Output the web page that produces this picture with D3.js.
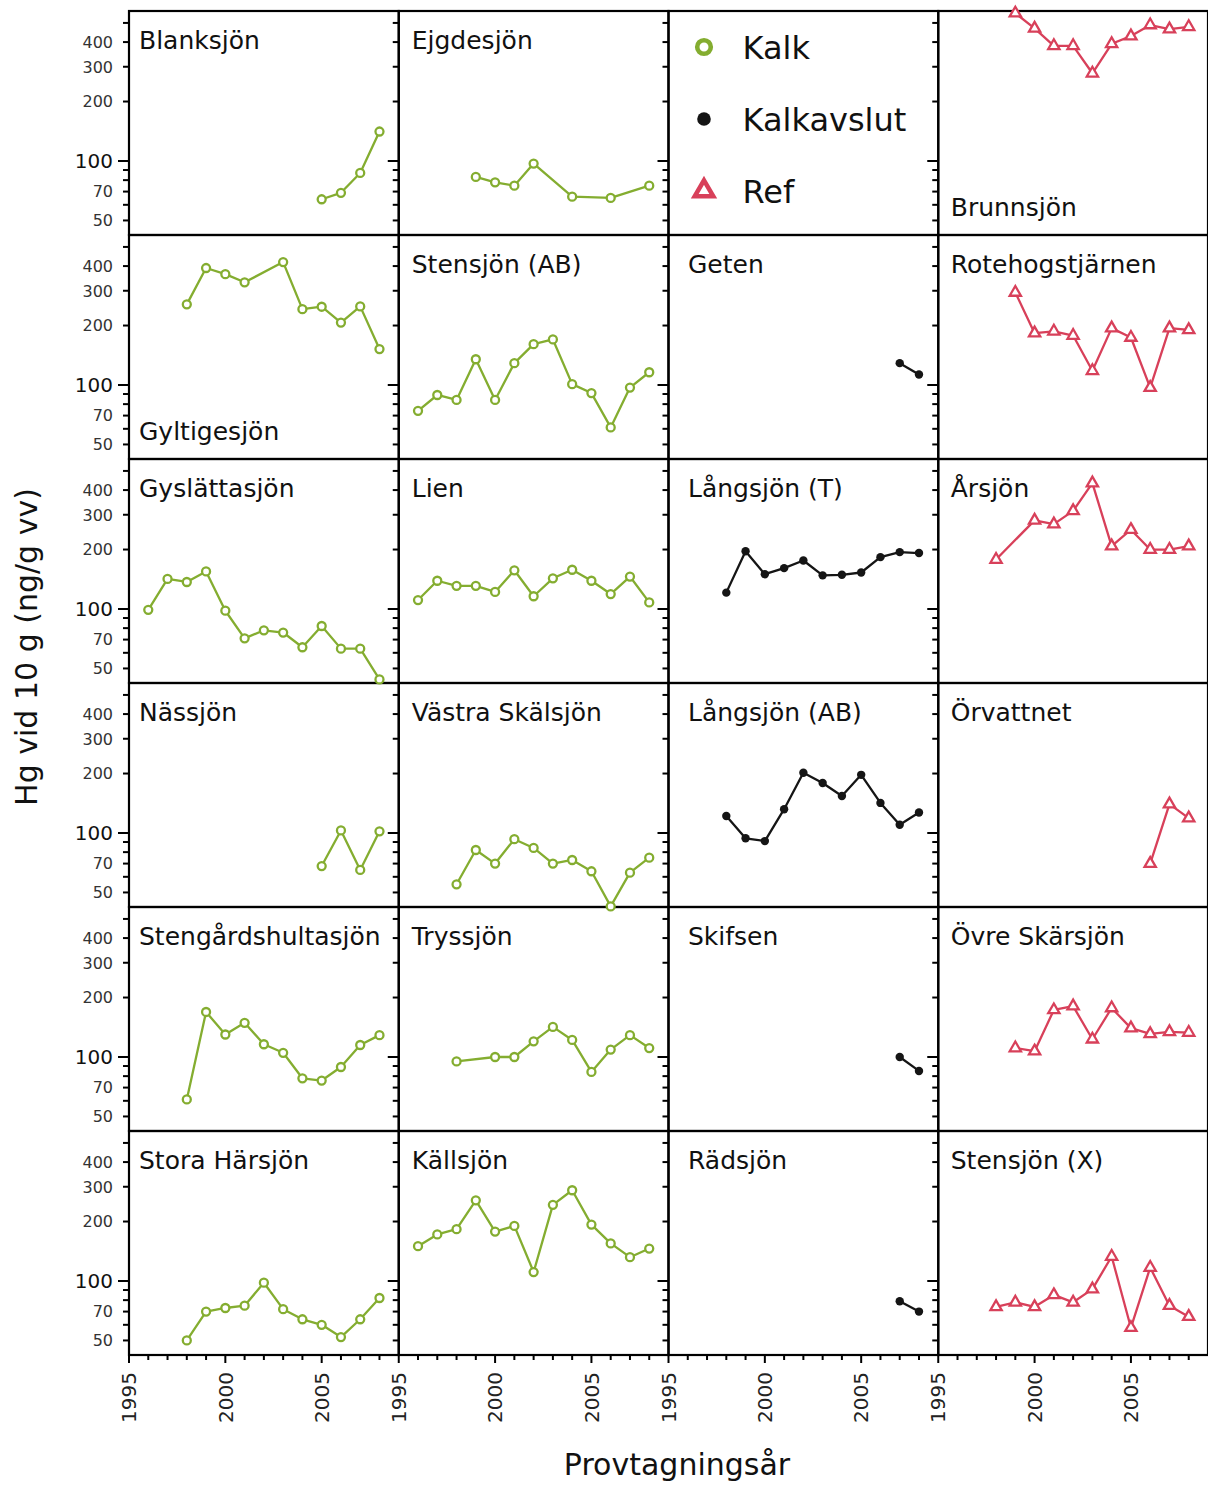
<!DOCTYPE html>
<html><head><meta charset="utf-8">
<script src="https://cdn.jsdelivr.net/npm/d3@7"></script>
<style>body{margin:0;background:#fff}svg{display:block}</style>
</head><body><svg id="chart" width="1208" height="1485"></svg>
<script>
// ---------- data ----------
const groups = ["Kalk", "Kalkavslut", "Ref"];
const lakeNames = ["Blanksjön","Ejgdesjön","Brunnsjön",
  "Gyltigesjön","Stensjön (AB)","Geten","Rotehogstjärnen",
  "Gyslättasjön","Lien","Långsjön (T)","Årsjön",
  "Nässjön","Västra Skälsjön","Långsjön (AB)","Örvattnet",
  "Stengårdshultasjön","Tryssjön","Skifsen","Övre Skärsjön",
  "Stora Härsjön","Källsjön","Rädsjön","Stensjön (X)"];
const lakeGroup = ["Kalk","Kalk","Ref",
  "Kalk","Kalk","Kalkavslut","Ref",
  "Kalk","Kalk","Kalkavslut","Ref",
  "Kalk","Kalk","Kalkavslut","Ref",
  "Kalk","Kalk","Kalkavslut","Ref",
  "Kalk","Kalk","Kalkavslut","Ref"];
const lakeYears = [
  [2005,2006,2007,2008],
  [1999,2000,2001,2002,2004,2006,2008],
  [1999,2000,2001,2002,2003,2004,2005,2006,2007,2008],
  [1998,1999,2000,2001,2003,2004,2005,2006,2007,2008],
  [1996,1997,1998,1999,2000,2001,2002,2003,2004,2005,2006,2007,2008],
  [2007,2008],
  [1999,2000,2001,2002,2003,2004,2005,2006,2007,2008],
  [1996,1997,1998,1999,2000,2001,2002,2003,2004,2005,2006,2007,2008],
  [1996,1997,1998,1999,2000,2001,2002,2003,2004,2005,2006,2007,2008],
  [1998,1999,2000,2001,2002,2003,2004,2005,2006,2007,2008],
  [1998,2000,2001,2002,2003,2004,2005,2006,2007,2008],
  [2005,2006,2007,2008],
  [1998,1999,2000,2001,2002,2003,2004,2005,2006,2007,2008],
  [1998,1999,2000,2001,2002,2003,2004,2005,2006,2007,2008],
  [2006,2007,2008],
  [1998,1999,2000,2001,2002,2003,2004,2005,2006,2007,2008],
  [1998,2000,2001,2002,2003,2004,2005,2006,2007,2008],
  [2007,2008],
  [1999,2000,2001,2002,2003,2004,2005,2006,2007,2008],
  [1998,1999,2000,2001,2002,2003,2004,2005,2006,2007,2008],
  [1996,1997,1998,1999,2000,2001,2002,2003,2004,2005,2006,2007,2008],
  [2007,2008],
  [1998,1999,2000,2001,2002,2003,2004,2005,2006,2007,2008]
];
const lakeValues = [
  [64,69,87,141],
  [83,78,75,97,66,65,75],
  [560,469,383,383,278,392,429,488,465,478],
  [256,391,364,331,419,242,249,207,250,152],
  [74,89,84,135,84,129,161,170,101,91,61,97,116],
  [129,113],
  [294,183,187,178,118,194,174,97,194,190],
  [99,142,137,155,98,71,78,76,64,82,63,63,44],
  [111,139,131,131,122,157,116,143,158,139,119,146,108],
  [121,196,150,161,176,148,149,153,183,194,192],
  [178,281,269,314,434,208,252,200,200,208],
  [68,103,65,102],
  [55,82,70,93,84,70,73,64,42.5,63,75],
  [122,94,91,132,202,179,154,197,142,110,127],
  [70,140,119],
  [61,169,130,149,116,105,78,76,89,115,129],
  [95,100,100,120,142,122,84,109,129,111],
  [100,85],
  [111,107,173,181,123,177,140,131,134,133],
  [50,70,73,75,98,72,64,60,52,64,82],
  [150,172,183,256,178,190,111,243,288,193,155,132,146],
  [79,70],
  [74,78,74,85,78,91,133,58,117,75,66]
];
const titleAtBottom = ["Brunnsjön","Gyltigesjön"];
const yTickValues = [50,60,70,80,90,100,200,300,400,500];
const yTickLabels = [50,70,100,200,300,400];
const xTickYears = [1995,1996,1997,1998,1999,2000,2001,2002,2003,2004,2005,2006,2007,2008];
const xTickLabels = [1995,2000,2005];
const yTitle = "Hg vid 10 g (ng/g vv)";
const xTitle = "Provtagningsår";

// ---------- layout ----------
const FONT = "DejaVu Sans, sans-serif";
const gridLeft = 129, gridTop = 11, cellW = 269.75, cellH = 224, nCols = 4, nRows = 6;
const legendCell = 2;
const titleDx = [10, 13, 19.5, 12.5];
const color = d3.scaleOrdinal().domain(groups).range(["#84ad30", "#151515", "#d8405a"]);

const x = d3.scaleLinear().domain([1995, 2009]).range([0, cellW]);
const y = d3.scaleLog().domain([42.2, 574.6]).range([cellH, 0]);

const svg = d3.select("#chart");
svg.append("rect").attr("width", 1208).attr("height", 1485).attr("fill", "#fff");

function cellPos(idx) {
  return { c: idx % nCols, r: Math.floor(idx / nCols) };
}

function marker(sel, group, big) {
  if (group === "Kalk") {
    sel.append("circle").attr("r", big ? 6.8 : 4)
      .attr("fill", "#fff").attr("stroke", color(group)).attr("stroke-width", big ? 4.6 : 2.3);
  } else if (group === "Kalkavslut") {
    sel.append("circle").attr("r", big ? 6.8 : 4.2).attr("fill", color(group));
  } else {
    sel.append("path").attr("d", d3.symbol(d3.symbolTriangle, big ? 150 : 55)())
      .attr("fill", "#fff").attr("stroke", color(group)).attr("stroke-width", big ? 4.5 : 2.3)
      .attr("stroke-linejoin", "miter");
  }
}

// frames + axes for each cell
for (let idx = 0; idx < nCols * nRows; idx++) {
  const { c, r } = cellPos(idx);
  const g = svg.append("g").attr("transform", `translate(${gridLeft + c * cellW},${gridTop + r * cellH})`);
  g.append("rect").attr("width", cellW).attr("height", cellH)
    .attr("fill", "none").attr("stroke", "#000").attr("stroke-width", 2.2);
  g.selectAll(".yt").data(yTickValues).join("line")
    .attr("x1", 0).attr("x2", d => d === 100 ? -11 : -6)
    .attr("y1", d => y(d)).attr("y2", d => y(d))
    .attr("stroke", "#000").attr("stroke-width", 2);
  if (c === 0) {
    g.selectAll(".yl").data(yTickLabels).join("text")
      .attr("x", -16).attr("y", d => y(d)).attr("dy", "0.36em")
      .attr("text-anchor", "end").attr("font-family", FONT)
      .attr("font-size", d => d === 100 ? 20 : 16)
      .attr("fill", d => d === 100 ? "#111" : "#333")
      .text(d => d);
  }
  if (r === nRows - 1) {
    g.selectAll(".xt").data(xTickYears).join("line")
      .attr("x1", d => x(d)).attr("x2", d => x(d))
      .attr("y1", cellH).attr("y2", d => d % 5 === 0 ? cellH + 8 : cellH + 5)
      .attr("stroke", "#000").attr("stroke-width", 2);
    g.selectAll(".xl").data(xTickLabels).join("text")
      .attr("transform", d => `translate(${x(d)},${cellH + 17}) rotate(-90)`)
      .attr("dy", "0.36em").attr("text-anchor", "end")
      .attr("font-family", FONT).attr("font-size", 20).attr("fill", "#222")
      .text(d => d);
  }
}

// data panels
lakeNames.forEach((name, i) => {
  const idx = i >= legendCell ? i + 1 : i;
  const { c, r } = cellPos(idx);
  const group = lakeGroup[i];
  const pts = lakeYears[i].map((yr, k) => ({ yr, v: lakeValues[i][k] }));
  const g = svg.append("g").attr("transform", `translate(${gridLeft + c * cellW},${gridTop + r * cellH})`);
  const bottom = titleAtBottom.includes(name);
  g.append("text").attr("x", titleDx[c]).attr("y", bottom ? 205 : 38)
    .attr("font-family", FONT).attr("font-size", 25).attr("fill", "#111").text(name);
  g.append("path").datum(pts)
    .attr("d", d3.line().x(d => x(d.yr)).y(d => y(d.v)))
    .attr("fill", "none").attr("stroke", color(group)).attr("stroke-width", 2.3)
    .attr("stroke-linejoin", "round");
  pts.forEach(p => {
    const m = g.append("g").attr("transform", `translate(${x(p.yr)},${y(p.v)})`);
    marker(m, group, false);
  });
});

// legend
{
  const { c, r } = cellPos(legendCell);
  const g = svg.append("g").attr("transform", `translate(${gridLeft + c * cellW},${gridTop + r * cellH})`);
  groups.forEach((grp, k) => {
    const cy = 36 + k * 72;
    const m = g.append("g").attr("transform", `translate(35.5,${cy})`);
    marker(m, grp, true);
    g.append("text").attr("x", 74).attr("y", cy + 12)
      .attr("font-family", FONT).attr("font-size", 32).attr("fill", "#111").text(grp);
  });
}

// axis titles
svg.append("text").attr("transform", "translate(37,647) rotate(-90)")
  .attr("text-anchor", "middle").attr("font-family", FONT).attr("font-size", 30)
  .attr("fill", "#111").text(yTitle);
svg.append("text").attr("x", 677).attr("y", 1475)
  .attr("text-anchor", "middle").attr("font-family", FONT).attr("font-size", 30)
  .attr("fill", "#111").text(xTitle);
</script>
</body></html>
